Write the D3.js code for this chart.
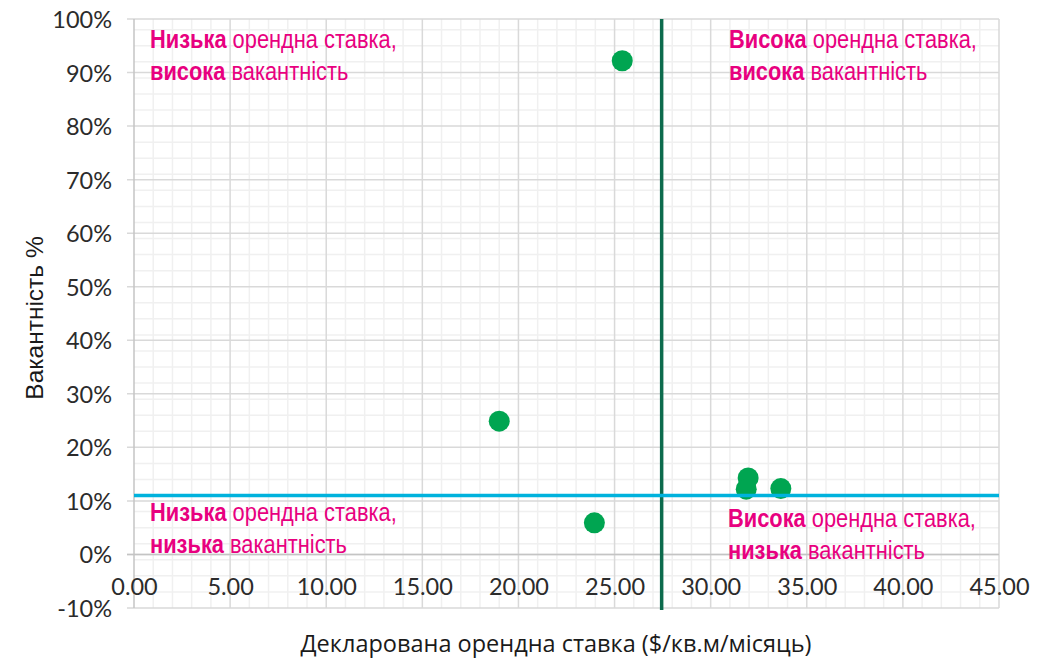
<!DOCTYPE html>
<html>
<head>
<meta charset="utf-8">
<script src="https://cdn.jsdelivr.net/npm/d3@7"></script>
<style>
	body { margin: 0; background: #fff; }
	svg { display: block; }
	.tick-label { font-family: Lato, 'DejaVu Sans', sans-serif; font-size: 23.5px; fill: #2b2b2b; }
	.quad { font-family: 'Liberation Sans', Arial, sans-serif; font-size: 26px; fill: #e8007f; }
	.quad .b { font-weight: bold; }
</style>
</head>
<body>
<div id="chart"></div>
<script>
/* global d3 */

// rent ($/sq.m/month) and vacancy share for each building
const rentRates = [25.4, 19.0, 23.95, 31.95, 31.85, 33.65];
const vacancyRates = [0.922, 0.249, 0.059, 0.143, 0.122, 0.123];

// averages that split the plot into quadrants
const avgRent = 27.45;
const avgVacancy = 0.11;

const xTicks = [0, 5, 10, 15, 20, 25, 30, 35, 40, 45];
const yTicks = [-0.1, 0, 0.1, 0.2, 0.3, 0.4, 0.5, 0.6, 0.7, 0.8, 0.9, 1.0];

const quadrantBold = ['Низька', 'Висока', 'Низька', 'Висока'];
const quadrantRest = [' орендна ставка,', ' орендна ставка,', ' орендна ставка,', ' орендна ставка,'];
const quadrantBold2 = ['висока', 'висока', 'низька', 'низька'];
const quadrantRest2 = [' вакантність', ' вакантність', ' вакантність', ' вакантність'];

const xTitle = 'Декларована орендна ставка ($/кв.м/місяць)';
const yTitle = 'Вакантність %';

const width = 1049;
const height = 659;
const margins = {left: 134, right: 50, top: 19, bottom: 51};
const plotW = width - margins.left - margins.right;
const plotH = height - margins.top - margins.bottom;

const svg = d3.select('#chart').append('svg')
	.attr('width', width)
	.attr('height', height);

const g = svg.append('g')
	.attr('transform', `translate(${margins.left},${margins.top})`);

const x = d3.scaleLinear().domain([0, 45]).range([0, plotW]);
const y = d3.scaleLinear().domain([-0.1, 1.0]).range([plotH, 0]);

// minor grid: every 1 on x, every 3% on y starting at -10%
const xMinor = d3.range(1, 45, 1).filter(v => v % 5 !== 0);
const yMinor = d3.range(-7, 100, 3).filter(v => v % 10 !== 0).map(v => v / 100);

g.append('g').selectAll('line')
	.data(xMinor)
	.enter().append('line')
	.attr('x1', d => x(d)).attr('x2', d => x(d))
	.attr('y1', 0).attr('y2', plotH)
	.attr('stroke', '#f0f0f0')
	.attr('stroke-width', 1.5);

g.append('g').selectAll('line')
	.data(yMinor)
	.enter().append('line')
	.attr('x1', 0).attr('x2', plotW)
	.attr('y1', d => y(d)).attr('y2', d => y(d))
	.attr('stroke', '#f0f0f0')
	.attr('stroke-width', 1.5);

// major grid
g.append('g').selectAll('line')
	.data(xTicks.slice(1))
	.enter().append('line')
	.attr('x1', d => x(d)).attr('x2', d => x(d))
	.attr('y1', 0).attr('y2', plotH)
	.attr('stroke', '#d9d9d9')
	.attr('stroke-width', 1.5);

g.append('g').selectAll('line')
	.data(yTicks)
	.enter().append('line')
	.attr('x1', -7).attr('x2', plotW)
	.attr('y1', d => y(d)).attr('y2', d => y(d))
	.attr('stroke', '#d9d9d9')
	.attr('stroke-width', 1.5);

// axis lines
g.append('line')
	.attr('x1', x(0)).attr('x2', x(0))
	.attr('y1', 0).attr('y2', plotH)
	.attr('stroke', '#c4c4c4')
	.attr('stroke-width', 1.5);

g.append('line')
	.attr('x1', -7).attr('x2', plotW)
	.attr('y1', y(0)).attr('y2', y(0))
	.attr('stroke', '#c4c4c4')
	.attr('stroke-width', 1.5);

// tick labels
const pct = v => d3.format('.0%')(v).replace('−', '-');
const yAxis = d3.axisLeft(y).tickValues(yTicks).tickFormat(pct).tickSize(0).tickPadding(22);
const yAxisG = g.append('g').call(yAxis);
yAxisG.select('.domain').remove();
yAxisG.selectAll('text').attr('class', 'tick-label').attr('dy', '0.36em');

const xAxis = d3.axisBottom(x).tickValues(xTicks).tickFormat(d3.format('.2f')).tickSize(0).tickPadding(0);
const xAxisG = g.append('g')
	.attr('transform', `translate(0,${y(0) + 32})`)
	.call(xAxis);
xAxisG.select('.domain').remove();
xAxisG.selectAll('text').attr('class', 'tick-label').attr('dy', '0.36em').attr('y', 0);

// points
g.append('g').selectAll('circle')
	.data(rentRates)
	.enter().append('circle')
	.attr('cx', d => x(d))
	.attr('cy', (d, i) => y(vacancyRates[i]))
	.attr('r', 10.5)
	.attr('fill', '#00a551');

// quadrant split lines
g.append('line')
	.attr('x1', x(avgRent)).attr('x2', x(avgRent))
	.attr('y1', 0).attr('y2', plotH + 2)
	.attr('stroke', '#0d6b4d')
	.attr('stroke-width', 3.5);

g.append('line')
	.attr('x1', 0).attr('x2', plotW)
	.attr('y1', y(avgVacancy)).attr('y2', y(avgVacancy))
	.attr('stroke', '#00b2dd')
	.attr('stroke-width', 3.5);

// quadrant labels, narrow face faked with a horizontal squeeze
const quadPos = [
	{x: 150, y: 48},
	{x: 729, y: 48},
	{x: 150, y: 521},
	{x: 728, y: 527},
];
const squeeze = 0.84;

quadPos.forEach((p, i) => {
	const t = svg.append('text')
		.attr('class', 'quad')
		.attr('transform', `translate(${p.x},${p.y}) scale(${squeeze},1)`);
	t.append('tspan').attr('class', 'b').text(quadrantBold[i]);
	t.append('tspan').text(quadrantRest[i]);
	const t2 = svg.append('text')
		.attr('class', 'quad')
		.attr('transform', `translate(${p.x},${p.y + 32}) scale(${squeeze},1)`);
	t2.append('tspan').attr('class', 'b').text(quadrantBold2[i]);
	t2.append('tspan').text(quadrantRest2[i]);
});

// axis titles
svg.append('text')
	.attr('x', 556)
	.attr('y', 652)
	.attr('text-anchor', 'middle')
	.style('font-family', "'Open Sans', 'Noto Sans', sans-serif")
	.style('font-size', '23.5px')
	.style('fill', '#1a1a1a')
	.text(xTitle);

svg.append('text')
	.attr('transform', 'translate(43,318) rotate(-90)')
	.attr('text-anchor', 'middle')
	.style('font-family', "'Liberation Sans', Arial, sans-serif")
	.style('font-size', '24.5px')
	.style('fill', '#1a1a1a')
	.text(yTitle);
</script>
</body>
</html>
